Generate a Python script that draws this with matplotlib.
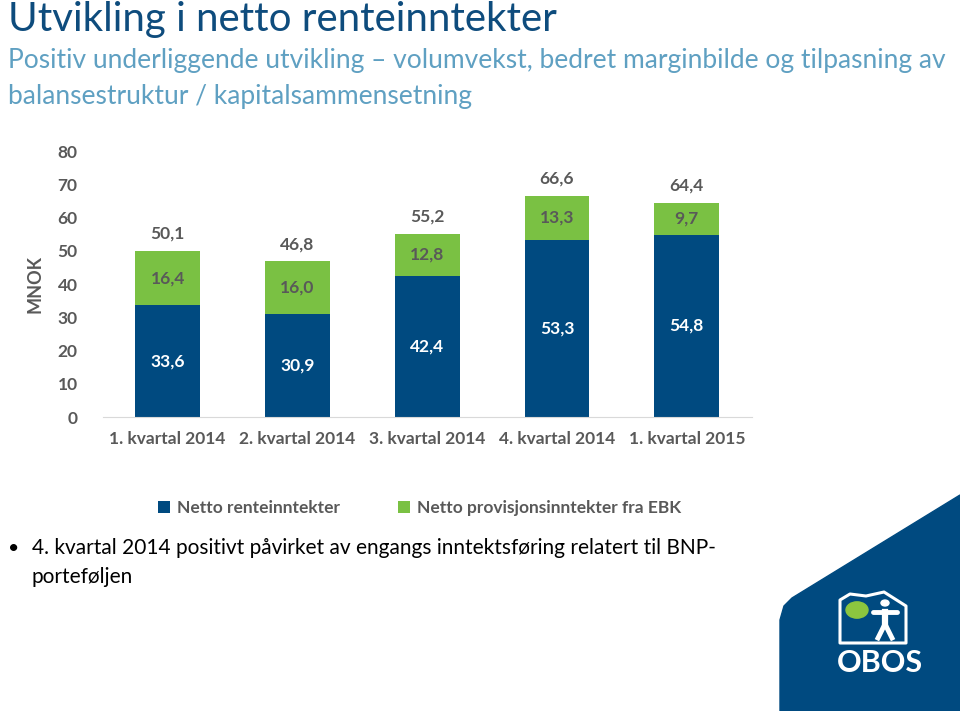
import numpy as np
import matplotlib.pyplot as plt
from matplotlib.patches import Polygon, Circle

plt.rcParams['font.family'] = ['Lato', 'DejaVu Sans']

# data
kvartaler = ['1. kvartal 2014', '2. kvartal 2014', '3. kvartal 2014', '4. kvartal 2014', '1. kvartal 2015']
renteinntekter = [33.6, 30.9, 42.4, 53.3, 54.8]
provisjon = [16.4, 16.0, 12.8, 13.3, 9.7]
totaler = [50.1, 46.8, 55.2, 66.6, 64.4]

BLUE = '#004a80'
GREEN = '#7ac143'
GREY = '#595959'

fig = plt.figure(figsize=(9.6, 7.11), dpi=100)

# titles
fig.text(0.008, 0.972, 'Utvikling i netto renteinntekter', fontsize=29, color='#0e4c7d',
         va='center', ha='left')
fig.text(0.008, 0.915, 'Positiv underliggende utvikling \u2013 volumvekst, bedret marginbilde og tilpasning av',
         fontsize=19, color='#5fa0c2', va='center', ha='left')
fig.text(0.008, 0.864, 'balansestruktur / kapitalsammensetning',
         fontsize=19, color='#5fa0c2', va='center', ha='left')

ax = fig.add_axes([0.107, 0.4135, 0.676, 0.374])
x = np.arange(len(kvartaler))
ax.bar(x, renteinntekter, width=0.5, color=BLUE, label='Netto renteinntekter')
ax.bar(x, provisjon, width=0.5, bottom=renteinntekter, color=GREEN,
       label='Netto provisjonsinntekter fra EBK')

for i in range(len(x)):
    ax.text(x[i], renteinntekter[i] / 2, f'{renteinntekter[i]:.1f}'.replace('.', ','),
            ha='center', va='center', color='white', fontsize=12.5, fontweight='bold')
    ax.text(x[i], renteinntekter[i] + provisjon[i] / 2, f'{provisjon[i]:.1f}'.replace('.', ','),
            ha='center', va='center', color=GREY, fontsize=12.5, fontweight='bold')
    ax.text(x[i], totaler[i] + 5.2, f'{totaler[i]:.1f}'.replace('.', ','),
            ha='center', va='center', color=GREY, fontsize=12.5, fontweight='bold')

ax.set_xlim(-0.5, len(x) - 0.5)
ax.set_ylim(0, 80)
ax.set_yticks(np.arange(0, 81, 10))
ax.set_xticks(x)
ax.set_xticklabels(kvartaler)
ax.tick_params(axis='both', length=0, labelsize=12.5, labelcolor=GREY)
ax.tick_params(axis='y', pad=18)
ax.tick_params(axis='x', pad=10)
for lab in ax.get_xticklabels() + ax.get_yticklabels():
    lab.set_fontweight('bold')
for s in ['top', 'right', 'left']:
    ax.spines[s].set_visible(False)
ax.spines['bottom'].set_color('#d9d9d9')
ax.set_ylabel('MNOK', fontsize=13, color=GREY, fontweight='bold', labelpad=10)

fig.legend(loc='center', bbox_to_anchor=(0.437, 0.285), ncol=2, frameon=False,
           handlelength=0.7, handleheight=0.7, handletextpad=0.4,
           columnspacing=3.3, labelcolor=GREY, prop={'weight': 'bold', 'size': 12.5})

# bullet text
fig.text(0.008, 0.229, '\u2022', fontsize=14, color='black', va='center')
fig.text(0.033, 0.229, '4. kvartal 2014 positivt påvirket av engangs inntektsføring relatert til BNP-',
         fontsize=15, color='black', va='center')
fig.text(0.033, 0.189, 'porteføljen', fontsize=15, color='black', va='center')

# logo shape bottom right
W, H = 960, 711
def fc(px, py):
    return (px / W, 1 - py / H)

shape = [fc(780, 620), fc(784, 606), fc(792, 598), fc(960, 495), fc(960, 711), fc(780, 711)]
fig.patches.append(Polygon(shape, closed=True, transform=fig.transFigure, color=BLUE, zorder=0))
house = [fc(840, 600), fc(850, 594), fc(866, 596), fc(884, 592), fc(906, 606),
         fc(906, 643), fc(840, 643)]
fig.patches.append(Polygon(house, closed=True, transform=fig.transFigure, fill=False,
                           edgecolor='white', linewidth=2.2, joinstyle='round'))
fig.patches.append(Circle(fc(857, 610), 11 / W, transform=fig.transFigure, color='#8cc63f'))
# stick figure
fig.patches.append(Circle(fc(885, 603), 4 / W, transform=fig.transFigure, color='white'))
fig.lines.append(plt.Line2D([873 / W, 897 / W], [1 - 612 / H, 1 - 612 / H], transform=fig.transFigure,
                            color='white', linewidth=3.5, solid_capstyle='round'))
fig.lines.append(plt.Line2D([885 / W, 885 / W], [1 - 612 / H, 1 - 626 / H], transform=fig.transFigure,
                            color='white', linewidth=4.5))
fig.lines.append(plt.Line2D([878 / W, 885 / W, 892 / W], [1 - 638 / H, 1 - 624 / H, 1 - 638 / H],
                            transform=fig.transFigure, color='white', linewidth=3.5))
fig.text(880 / W, 1 - 663 / H, 'OBOS', fontsize=22, color='white', fontweight='bold',
         ha='center', va='center')

fig.savefig('out.png', dpi=100)
